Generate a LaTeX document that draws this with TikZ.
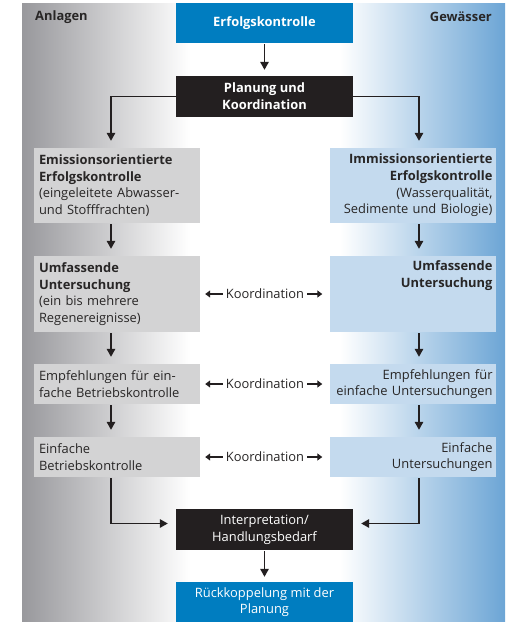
\documentclass[tikz,border=0pt]{standalone}
\usepackage{fontspec}
\setmainfont{Open Sans}
\usetikzlibrary{arrows.meta,positioning,calc}

\definecolor{boxblue}{RGB}{0,125,192}
\definecolor{boxblack}{RGB}{35,31,32}
\definecolor{boxgray}{RGB}{211,211,212}
\definecolor{boxlight}{RGB}{196,218,238}
\definecolor{sidegray}{RGB}{152,152,156}
\definecolor{sideblue}{RGB}{108,165,213}
\definecolor{txtdark}{RGB}{40,38,38}

\newcommand{\boxfont}{\fontsize{12.9}{16.7}\selectfont}

\tikzset{
  flow/.style={draw=boxblack, line width=1.5pt, -{Triangle[length=8pt,width=8.5pt]}, shorten >=7pt, shorten <=1pt},
  koord/.style={draw=boxblack, line width=1.3pt, -{Triangle[length=5pt,width=7pt]}, shorten >=5pt},
  midbox/.style={minimum width=177pt, minimum height=41pt, align=center, text=white, inner sep=3pt, font=\boxfont},
  sidebox/.style={minimum width=166pt, text width=160pt, inner xsep=3pt, inner ysep=4pt, text=txtdark, font=\boxfont},
  leftbox/.style={sidebox, fill=boxgray, align=left, text width=156pt, inner xsep=5pt},
  rightbox/.style={sidebox, fill=boxlight, align=right},
  koordlabel/.style={text=txtdark, inner xsep=3pt, font=\boxfont},
  sidehead/.style={text=txtdark, font=\boxfont\bfseries, inner sep=0pt}
}

\begin{document}
\begin{tikzpicture}[x=1pt,y=-1pt]
  \useasboundingbox (0,0) rectangle (509,622);
  % side shading
  \fill[left color=sidegray, right color=white] (22,3) rectangle (190,622);
  \fill[left color=white, right color=sideblue] (340,3) rectangle (505,622);

  \node[sidehead, anchor=west] (anlagen) at (35,17) {Anlagen};
  \node[sidehead, anchor=east] (gewaesser) at (492,17) {Gewässer};

  \node[midbox, fill=boxblue, minimum height=40pt] (erfolg) at (264.5,23) {\textbf{Erfolgskontrolle}};
  \node[midbox, fill=boxblack] (planung) at (264.5,96.5) {\textbf{Planung und}\\\textbf{Koordination}};

  \node[leftbox, minimum height=75pt] (emission) at (117,185.5) {\textbf{Emissionsorientierte}\\\textbf{Erfolgskontrolle}\\(eingeleitete Abwasser-\\und Stofffrachten)};
  \node[rightbox, minimum height=75pt] (immission) at (412.5,185.5) {\textbf{Immissionsorientierte}\\\textbf{Erfolgskontrolle}\\(Wasserqualität,\\Sedimente und Biologie)};

  \node[leftbox, minimum height=76pt] (umfL) at (117,294) {\textbf{Umfassende}\\\textbf{Untersuchung}\\(ein bis mehrere\\Regenereignisse)};
  \node[rightbox, minimum height=76pt, text depth=57pt] (umfR) at (412.5,294) {\textbf{Umfassende}\\\textbf{Untersuchung}};

  \node[leftbox, minimum height=40pt] (empfL) at (117,384) {Empfehlungen für ein-\\fache Betriebskontrolle};
  \node[rightbox, minimum height=40pt] (empfR) at (412.5,384) {Empfehlungen für\\einfache Untersuchungen};

  \node[leftbox, minimum height=40pt] (einfL) at (117,457) {Einfache\\Betriebskontrolle};
  \node[rightbox, minimum height=40pt] (einfR) at (412.5,457) {Einfache\\Untersuchungen};

  \node[midbox, fill=boxblack] (interp) at (264.5,529.5) {Interpretation/\\Handlungsbedarf};
  \node[midbox, fill=boxblue, minimum height=40pt] (rueck) at (264.5,602) {Rückkoppelung mit der\\Planung};

  \node[koordlabel] (k1) at (265,294) {Koordination};
  \node[koordlabel] (k2) at (265,384) {Koordination};
  \node[koordlabel] (k3) at (265,457) {Koordination};

  % main flow
  \draw[flow, shorten >=6pt] (erfolg) -- (planung);
  \draw[flow, shorten <=0pt] (planung.west) -| ([xshift=-6pt]emission.north);
  \draw[flow, shorten <=0pt] (planung.east) -| ([xshift=6.5pt]immission.north);
  \draw[flow] ([xshift=-6pt]emission.south) -- ([xshift=-6pt]umfL.north);
  \draw[flow] ([xshift=6.5pt]immission.south) -- ([xshift=6.5pt]umfR.north);
  \draw[flow] ([xshift=-6pt]umfL.south) -- ([xshift=-6pt]empfL.north);
  \draw[flow] ([xshift=6.5pt]umfR.south) -- ([xshift=6.5pt]empfR.north);
  \draw[flow] ([xshift=-6pt]empfL.south) -- ([xshift=-6pt]einfL.north);
  \draw[flow] ([xshift=6.5pt]empfR.south) -- ([xshift=6.5pt]einfR.north);
  \draw[flow, shorten >=8pt] ([xshift=-6pt]einfL.south) |- ([yshift=6pt]interp.west);
  \draw[flow, shorten >=8pt] ([xshift=6.5pt]einfR.south) |- ([yshift=6pt]interp.east);
  \draw[flow, shorten >=5pt] (interp) -- (rueck);

  % coordination
  \foreach \k/\l/\r in {k1/umfL/umfR, k2/empfL/empfR, k3/einfL/einfR} {
    \draw[koord] (\k) -- (\l);
    \draw[koord, shorten >=7pt] (\k) -- (\r);
  }
\end{tikzpicture}
\end{document}
